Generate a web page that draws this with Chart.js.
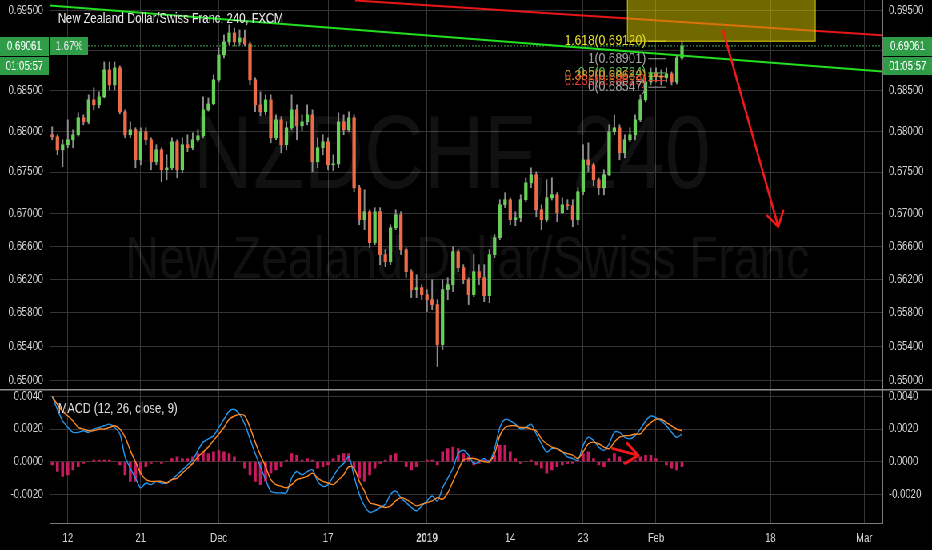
<!DOCTYPE html>
<html>
<head>
<meta charset="utf-8">
<script src="https://cdn.jsdelivr.net/npm/chart.js@4.4.1/dist/chart.umd.min.js"></script>
<style>
  html, body { margin: 0; padding: 0; background: #000; overflow: hidden; }
  /* the screenshot is squeezed sideways, so draw wide and squash */
  #wrap { position: absolute; left: 0; top: 0; width: 1165px; height: 550px; transform: scaleX(0.8); transform-origin: 0 0; }
  #pricePane { position: absolute; left: 0; top: 0; width: 1165px; height: 389px; }
  #macdPane { position: absolute; left: 0; top: 389px; width: 1165px; height: 161px; }
</style>
</head>
<body>
<div id="wrap">
  <div id="pricePane"><canvas id="price"></canvas></div>
  <div id="macdPane"><canvas id="macd"></canvas></div>
</div>
<script>
// 12h slots, Nov 9 2018 .. early Mar 2019
const slotCount = 160;
const tickSlots = [3, 17, 32, 53, 72, 88, 102, 116, 138, 156];
const tickLabels = ['12', '21', 'Dec', '17', '2019', '14', '23', 'Feb', '18', 'Mar'];
const priceTicks = [0.695, 0.690, 0.685, 0.680, 0.675, 0.670, 0.666, 0.662, 0.658, 0.654, 0.650];
const macdTicks = [0.004, 0.002, 0, -0.002];

const opens = [
  0.67958,0.67934,0.67774,0.67836,0.67897,0.67958,0.68168,0.68118,0.68390,0.68328,
  0.68427,0.68762,0.68576,0.68787,0.68242,0.67958,0.68020,0.67651,0.67995,0.67897,
  0.67627,0.67774,0.67529,0.67553,0.67873,0.67529,0.67836,0.67799,0.67897,0.67946,
  0.68266,0.68340,0.68638,0.68949,0.69111,0.69224,0.69111,0.69161,0.69086,0.68638,
  0.68328,0.68242,0.68390,0.67921,0.68143,0.67836,0.68045,0.68266,0.68069,0.68118,
  0.68204,0.67627,0.67799,0.67873,0.67590,0.67600,0.68118,0.68020,0.68168,0.67309,
  0.66921,0.67018,0.66644,0.67018,0.66499,0.66414,0.66824,0.66982,0.66559,0.66294,
  0.66079,0.66103,0.66019,0.65959,0.65900,0.65424,0.66079,0.66138,0.66535,0.66342,
  0.66198,0.66019,0.66294,0.66222,0.66007,0.66499,0.66704,0.67103,0.67164,0.66921,
  0.66945,0.67164,0.67370,0.67468,0.67042,0.66921,0.67188,0.67224,0.67006,0.67103,
  0.67091,0.66921,0.67261,0.67651,0.67590,0.67407,0.67309,0.67468,0.67995,0.68045,
  0.67737,0.67897,0.67958,0.68143,0.68390,0.68613,0.68725,0.68688,0.68663,0.68713,
  0.68613,0.68911
];
const highs = [
  0.68057,0.67958,0.67897,0.68143,0.68020,0.68229,0.68204,0.68452,0.68539,0.68489,
  0.68861,0.68861,0.68861,0.68812,0.68266,0.68118,0.68045,0.68045,0.68045,0.67921,
  0.67836,0.67799,0.67713,0.67921,0.67897,0.67921,0.67958,0.67983,0.68020,0.68427,
  0.68415,0.68700,0.69036,0.69199,0.69324,0.69286,0.69261,0.69261,0.69111,0.68663,
  0.68489,0.68452,0.68452,0.68204,0.68180,0.68118,0.68452,0.68328,0.68204,0.68328,
  0.68266,0.67921,0.67958,0.67921,0.67713,0.68229,0.68204,0.68242,0.68204,0.67340,
  0.67285,0.67042,0.67067,0.67067,0.66559,0.66860,0.67042,0.67018,0.66583,0.66318,
  0.66258,0.66138,0.66079,0.66198,0.65959,0.66198,0.66222,0.66595,0.66559,0.66378,
  0.66220,0.66499,0.66378,0.66378,0.66559,0.66740,0.67164,0.67249,0.67188,0.67018,
  0.67224,0.67431,0.67553,0.67504,0.67103,0.67407,0.67431,0.67250,0.67188,0.67164,
  0.67164,0.67309,0.67836,0.67860,0.67610,0.67431,0.67529,0.68081,0.68204,0.68081,
  0.67958,0.68045,0.68204,0.68452,0.68663,0.68787,0.68787,0.68762,0.68787,0.68737,
  0.68949,0.69111
];
const lows = [
  0.67897,0.67713,0.67566,0.67799,0.67799,0.67940,0.68081,0.68094,0.68266,0.68291,
  0.68415,0.68514,0.68514,0.68217,0.67921,0.67921,0.67553,0.67590,0.67836,0.67529,
  0.67590,0.67383,0.67407,0.67529,0.67431,0.67492,0.67750,0.67774,0.67873,0.67921,
  0.68250,0.68328,0.68613,0.68911,0.69074,0.69061,0.69074,0.69061,0.68576,0.68242,
  0.68192,0.68204,0.67860,0.67897,0.67737,0.67774,0.68020,0.67897,0.68008,0.68081,
  0.67504,0.67553,0.67713,0.67529,0.67517,0.67553,0.67958,0.67995,0.67261,0.66860,
  0.66800,0.66583,0.66619,0.66378,0.66354,0.66378,0.66800,0.66499,0.66222,0.65983,
  0.65983,0.65959,0.65816,0.65840,0.65165,0.65365,0.65959,0.66055,0.66294,0.66150,
  0.65900,0.65995,0.66138,0.65935,0.65923,0.66462,0.66680,0.67067,0.66860,0.66848,
  0.66897,0.67140,0.67310,0.66957,0.66800,0.66897,0.67160,0.66897,0.66994,0.67042,
  0.66836,0.66860,0.67224,0.67504,0.67334,0.67224,0.67224,0.67456,0.67958,0.67651,
  0.67676,0.67873,0.67897,0.68120,0.68365,0.68576,0.68613,0.68576,0.68613,0.68576,
  0.68588,0.68887
];
const closes = [
  0.67934,0.67774,0.67836,0.67897,0.67958,0.68168,0.68118,0.68390,0.68328,0.68427,
  0.68762,0.68576,0.68787,0.68242,0.67958,0.68020,0.67651,0.67995,0.67897,0.67627,
  0.67774,0.67529,0.67553,0.67873,0.67529,0.67836,0.67799,0.67897,0.67946,0.68266,
  0.68340,0.68638,0.68949,0.69111,0.69224,0.69111,0.69161,0.69086,0.68638,0.68328,
  0.68242,0.68390,0.67921,0.68143,0.67836,0.68045,0.68266,0.68069,0.68118,0.68204,
  0.67627,0.67799,0.67873,0.67590,0.67600,0.68118,0.68020,0.68168,0.67309,0.66921,
  0.67018,0.66644,0.67018,0.66499,0.66414,0.66824,0.66982,0.66559,0.66294,0.66079,
  0.66103,0.66019,0.65959,0.65900,0.65424,0.66079,0.66138,0.66535,0.66342,0.66198,
  0.66019,0.66294,0.66222,0.66007,0.66499,0.66704,0.67103,0.67164,0.66921,0.66945,
  0.67164,0.67370,0.67468,0.67042,0.66921,0.67188,0.67224,0.67006,0.67103,0.67091,
  0.66921,0.67261,0.67651,0.67590,0.67407,0.67309,0.67468,0.67995,0.68045,0.67737,
  0.67897,0.67958,0.68143,0.68390,0.68613,0.68725,0.68688,0.68663,0.68713,0.68613,
  0.68911,0.69061
];

const macdLine = [
  0.0040,0.0032,0.0025,0.0021,0.0018,0.0018,0.0019,0.0018,0.0020,0.0021,
  0.0022,0.0023,0.0021,0.0017,0.0003,-0.0004,-0.0010,-0.0016,-0.0013,-0.0014,
  -0.0012,-0.0013,-0.0013,-0.0011,-0.0008,-0.0005,-0.0002,0.0001,0.0007,0.0012,
  0.0014,0.0016,0.0021,0.0026,0.0031,0.0032,0.0029,0.0023,0.0014,0.0005,
  -0.0003,-0.0011,-0.0018,-0.0019,-0.0019,-0.0019,-0.0010,-0.0006,-0.0008,-0.0006,
  -0.0005,-0.0012,-0.0015,-0.0014,-0.0009,-0.0004,-0.0001,0.0003,-0.0009,-0.0020,
  -0.0027,-0.0031,-0.0030,-0.0028,-0.0026,-0.0020,-0.0018,-0.0022,-0.0025,-0.0028,
  -0.0030,-0.0027,-0.0024,-0.0021,-0.0024,-0.0016,-0.0010,-0.0004,0.0005,0.0007,
  0.0004,-0.0001,0.0000,0.0002,0.0000,0.0008,0.0021,0.0026,0.0025,0.0023,
  0.0020,0.0021,0.0023,0.0017,0.0011,0.0006,0.0008,0.0008,0.0006,0.0003,
  0.0002,0.0001,0.0010,0.0015,0.0013,0.0009,0.0007,0.0011,0.0018,0.0018,
  0.0015,0.0014,0.0016,0.0020,0.0025,0.0028,0.0027,0.0025,0.0022,0.0018,
  0.0015,0.0017
];
const signalLine = [
  0.0040,0.0035,0.0031,0.0028,0.0025,0.0021,0.0020,0.0019,0.0019,0.0020,
  0.0020,0.0021,0.0022,0.0020,0.0015,0.0007,0.0000,-0.0007,-0.0011,-0.0012,
  -0.0012,-0.0012,-0.0013,-0.0011,-0.0010,-0.0007,-0.0004,-0.0001,0.0003,0.0006,
  0.0009,0.0013,0.0017,0.0021,0.0026,0.0028,0.0029,0.0028,0.0021,0.0012,
  0.0004,-0.0003,-0.0011,-0.0014,-0.0015,-0.0016,-0.0014,-0.0011,-0.0010,-0.0009,
  -0.0007,-0.0010,-0.0012,-0.0013,-0.0014,-0.0011,-0.0008,-0.0003,-0.0004,-0.0012,
  -0.0018,-0.0025,-0.0026,-0.0027,-0.0028,-0.0027,-0.0024,-0.0022,-0.0023,-0.0025,
  -0.0027,-0.0026,-0.0025,-0.0024,-0.0022,-0.0023,-0.0019,-0.0012,-0.0005,0.0001,
  0.0002,0.0002,0.0001,0.0000,0.0000,0.0005,0.0016,0.0021,0.0022,0.0022,
  0.0021,0.0021,0.0020,0.0019,0.0014,0.0011,0.0009,0.0008,0.0006,0.0005,
  0.0004,0.0002,0.0006,0.0011,0.0012,0.0011,0.0009,0.0008,0.0012,0.0015,
  0.0016,0.0016,0.0017,0.0017,0.0021,0.0024,0.0026,0.0026,0.0024,0.0022,
  0.0020,0.0019
];
const histogram = [
  -0.0002,-0.0006,-0.0009,-0.0008,-0.0005,-0.0003,-0.0001,0.0000,0.0001,0.0001,
  0.0001,0.0001,0.0000,-0.0002,-0.0008,-0.0012,-0.0012,-0.0008,-0.0003,-0.0001,
  0.0000,-0.0001,0.0000,0.0002,0.0003,0.0002,0.0002,0.0003,0.0005,0.0006,
  0.0005,0.0006,0.0007,0.0006,0.0005,0.0003,0.0000,-0.0004,-0.0008,-0.0012,
  -0.0014,-0.0012,-0.0007,-0.0005,-0.0003,0.0001,0.0005,0.0004,0.0001,0.0002,
  0.0001,-0.0004,-0.0003,-0.0002,0.0002,0.0004,0.0005,0.0005,-0.0004,-0.0010,
  -0.0012,-0.0008,-0.0004,-0.0001,0.0001,0.0004,0.0005,0.0000,-0.0003,-0.0005,
  -0.0003,0.0000,0.0001,0.0001,-0.0002,0.0006,0.0008,0.0009,0.0008,0.0005,
  0.0003,-0.0002,-0.0001,0.0001,0.0001,0.0004,0.0010,0.0010,0.0006,0.0002,
  -0.0001,0.0000,0.0001,-0.0002,-0.0004,-0.0007,-0.0005,-0.0003,-0.0002,-0.0001,
  -0.0001,0.0001,0.0005,0.0006,0.0002,-0.0002,-0.0003,0.0002,0.0005,0.0003,
  -0.0001,0.0000,0.0001,0.0003,0.0004,0.0004,0.0002,0.0000,-0.0002,-0.0004,
  -0.0005,-0.0003
];

const fibNames = ['1.618', '1', '0.5', '0.382', '0.236', '0'];
const fibPrices = [0.69120, 0.68901, 0.68724, 0.68682, 0.68629, 0.68547];
const fibColors = ['#e2d82c', '#a0a0a0', '#52b852', '#d69a2e', '#e23a30', '#a0a0a0'];

const SQ = 0.8;
const AXIS_W = 62;
const FONT = '"Liberation Sans", Arial, sans-serif';
const TEXT = '#d2d2d2';
const GRID = '#353535';
const AXIS_LINE = '#7c7c7c';
const UP = '#66cf58';
const DOWN = '#ec6a48';
const BOX_GREEN = '#2f9d47';
const lastPrice = closes[closes.length - 1];

const slots = Array.from({ length: slotCount }, (_, i) => String(i));

function seg(ctx, x0, y0, x1, y1) {
  ctx.beginPath(); ctx.moveTo(x0, y0); ctx.lineTo(x1, y1); ctx.stroke();
}
function arrow(ctx, x0, y0, x1, y1, wings) {
  ctx.beginPath();
  ctx.moveTo(x0, y0); ctx.lineTo(x1, y1);
  wings.forEach(w => { ctx.moveTo(x1, y1); ctx.lineTo(x1 + w[0], y1 + w[1]); });
  ctx.stroke();
}
function box(ctx, x, y, w, h, text, color) {
  ctx.fillStyle = BOX_GREEN;
  ctx.fillRect(x, y, w, h);
  ctx.fillStyle = color || '#fff';
  ctx.font = '12px ' + FONT;
  ctx.textAlign = 'center';
  ctx.textBaseline = 'middle';
  ctx.fillText(text, x + w / 2, y + h / 2 + 0.5);
}

const priceOverlay = {
  id: 'priceOverlay',
  beforeDatasetsDraw(chart) {
    const { ctx, chartArea: a } = chart;
    ctx.save();
    ctx.beginPath(); ctx.rect(a.left, a.top, a.right - a.left, a.bottom - a.top); ctx.clip();
    ctx.fillStyle = 'rgba(255,255,255,0.068)';
    ctx.textAlign = 'left';
    ctx.textBaseline = 'alphabetic';
    ctx.font = '104px ' + FONT;
    ctx.fillText('NZDCHF, 240', 193 / SQ, 188);
    ctx.font = '59px ' + FONT;
    ctx.fillText('New Zealand Dollar/Swiss Franc', 125 / SQ, 278);
    ctx.restore();
  },
  afterDatasetsDraw(chart) {
    const { ctx, chartArea: a, scales: { x, y } } = chart;
    const px = k => x.getPixelForValue(k);
    const py = p => y.getPixelForValue(p);
    ctx.save();
    ctx.beginPath(); ctx.rect(a.left, a.top, a.right - a.left, a.bottom - a.top); ctx.clip();

    // last price
    ctx.strokeStyle = '#3fae4c';
    ctx.lineWidth = 1;
    ctx.setLineDash([2, 2]);
    seg(ctx, a.left, py(lastPrice), a.right, py(lastPrice));
    ctx.setLineDash([]);

    // trend lines
    ctx.lineWidth = 2;
    ctx.strokeStyle = '#20e020';
    seg(ctx, px(-0.5), py(0.69569), px(159.5), py(0.68742));
    ctx.strokeStyle = '#e81616';
    seg(ctx, px(58.2), py(0.69632), px(159.5), py(0.69195));

    // target box
    const bx0 = px(110.5), bx1 = px(146.6), by0 = py(0.7), by1 = py(fibPrices[0]);
    ctx.fillStyle = 'rgba(205,192,0,0.55)';
    ctx.fillRect(bx0, by0, bx1 - bx0, by1 - by0);
    ctx.strokeStyle = '#d8cf10';
    ctx.lineWidth = 1;
    ctx.strokeRect(bx0, by0, bx1 - bx0, by1 - by0);

    // fib levels
    ctx.font = '15px ' + FONT;
    ctx.textAlign = 'right';
    ctx.textBaseline = 'middle';
    fibNames.forEach((n, i) => {
      const yy = py(fibPrices[i]);
      ctx.strokeStyle = fibColors[i];
      seg(ctx, px(114.5), yy, px(118), yy);
      ctx.fillStyle = fibColors[i];
      ctx.fillText(n + '(' + fibPrices[i].toFixed(5) + ')', 646 / SQ, yy);
    });

    // projected move
    ctx.strokeStyle = '#f01818';
    ctx.lineWidth = 2.6;
    ctx.lineCap = 'round';
    arrow(ctx, px(128.9), py(0.69249), px(139.5), py(0.66836), [[-13.75, -11], [6.25, -16]]);
    ctx.restore();
  },
  afterDraw(chart) {
    const { ctx, chartArea: a, scales: { y } } = chart;
    const yy = Math.round(y.getPixelForValue(lastPrice));
    ctx.save();
    ctx.fillStyle = '#e6e6e6';
    ctx.font = '14px ' + FONT;
    ctx.textAlign = 'left';
    ctx.textBaseline = 'alphabetic';
    ctx.fillText('New Zealand Dollar/Swiss Franc, 240, FXCM', 58 / SQ, 23);
    box(ctx, 0, yy - 9, a.left - 1, 19, lastPrice.toFixed(5));
    box(ctx, a.left + 1, yy - 9, 47, 18, '1.67%', '#e8e8e8');
    box(ctx, 0, yy + 11, a.left - 1, 18, '01:05:57');
    box(ctx, a.right + 1, yy - 9, chart.width - a.right - 1, 19, lastPrice.toFixed(5));
    box(ctx, a.right + 1, yy + 11, chart.width - a.right - 1, 18, '01:05:57');
    ctx.restore();
  }
};

const macdOverlay = {
  id: 'macdOverlay',
  afterDraw(chart) {
    const { ctx, scales: { x, y } } = chart;
    ctx.save();
    ctx.strokeStyle = '#8f8f8f';
    ctx.lineWidth = 1.5;
    seg(ctx, 0, 0.75, chart.width, 0.75);
    ctx.fillStyle = '#d8d8d8';
    ctx.font = '14px ' + FONT;
    ctx.textAlign = 'left';
    ctx.textBaseline = 'alphabetic';
    ctx.fillText('MACD (12, 26, close, 9)', 58 / SQ, 24);
    ctx.strokeStyle = '#f01818';
    ctx.lineWidth = 3;
    ctx.lineCap = 'round';
    arrow(ctx, x.getPixelForValue(107.6), y.getPixelForValue(0.00082),
      x.getPixelForValue(112.6), y.getPixelForValue(0.00039), [[-13.75, -12], [-16.25, 8]]);
    ctx.restore();
  }
};

function xAxis(showLabels) {
  return {
    type: 'category',
    offset: true,
    afterBuildTicks: s => { s.ticks = tickSlots.map(v => ({ value: v })); },
    afterFit: s => { s.height = showLabels ? 27 : 0; s.paddingLeft = 0; s.paddingRight = 0; },
    grid: { color: GRID, offset: false, drawTicks: false },
    border: { display: showLabels, color: AXIS_LINE },
    ticks: {
      display: showLabels,
      autoSkip: false,
      maxRotation: 0,
      padding: 8,
      color: TEXT,
      font: c => ({ size: 12, family: FONT, weight: tickLabels[c.index] === '2019' ? 'bold' : 'normal' }),
      callback: v => tickLabels[tickSlots.indexOf(v)]
    }
  };
}

function yAxis(position, opts) {
  return Object.assign({
    position,
    afterFit: s => { s.width = AXIS_W; s.paddingTop = 0; s.paddingBottom = 0; },
    grid: { display: position === 'left', color: GRID, drawTicks: false },
    border: { color: AXIS_LINE },
  }, opts);
}

function priceY(position) {
  return yAxis(position, {
    type: 'logarithmic',
    min: 0.6490,
    max: 0.69638,
    afterBuildTicks: s => { s.ticks = priceTicks.map(v => ({ value: v })); },
    ticks: { color: TEXT, font: { size: 12, family: FONT }, padding: 8, callback: v => Number(v).toFixed(5) }
  });
}

function macdY(position) {
  return yAxis(position, {
    type: 'linear',
    min: -0.00375,
    max: 0.00441,
    afterBuildTicks: s => { s.ticks = macdTicks.map(v => ({ value: v })); },
    ticks: { color: TEXT, font: { size: 12, family: FONT }, padding: 8, callback: v => Number(v).toFixed(4) }
  });
}

const common = {
  responsive: true,
  maintainAspectRatio: false,
  animation: false,
  layout: { padding: 0 },
  plugins: { legend: { display: false }, tooltip: { enabled: false } }
};

new Chart(document.getElementById('price'), {
  type: 'bar',
  data: {
    labels: slots,
    datasets: [
      {
        label: 'body',
        data: opens.map((o, i) => [o, closes[i]]),
        backgroundColor: opens.map((o, i) => closes[i] >= o ? UP : DOWN),
        barThickness: 3.6,
        minBarLength: 1,
        grouped: false,
        order: 0
      },
      {
        label: 'wick',
        data: lows.map((l, i) => [l, highs[i]]),
        backgroundColor: '#8d8d8d',
        barThickness: 1.3,
        grouped: false,
        order: 1
      }
    ]
  },
  options: Object.assign({}, common, {
    scales: { x: xAxis(false), y: priceY('left'), yR: priceY('right') }
  }),
  plugins: [priceOverlay]
});

new Chart(document.getElementById('macd'), {
  type: 'bar',
  data: {
    labels: slots,
    datasets: [
      { type: 'line', label: 'Signal', data: signalLine, borderColor: '#ff8a24', borderWidth: 1.4, pointRadius: 0, tension: 0.3, order: 0 },
      { type: 'line', label: 'MACD', data: macdLine, borderColor: '#2496ee', borderWidth: 1.4, pointRadius: 0, tension: 0.3, order: 1 },
      { label: 'Histogram', data: histogram, backgroundColor: '#c81a5e', barThickness: 3, grouped: false, order: 2 }
    ]
  },
  options: Object.assign({}, common, {
    scales: { x: xAxis(true), y: macdY('left'), yR: macdY('right') }
  }),
  plugins: [macdOverlay]
});
</script>
</body>
</html>
